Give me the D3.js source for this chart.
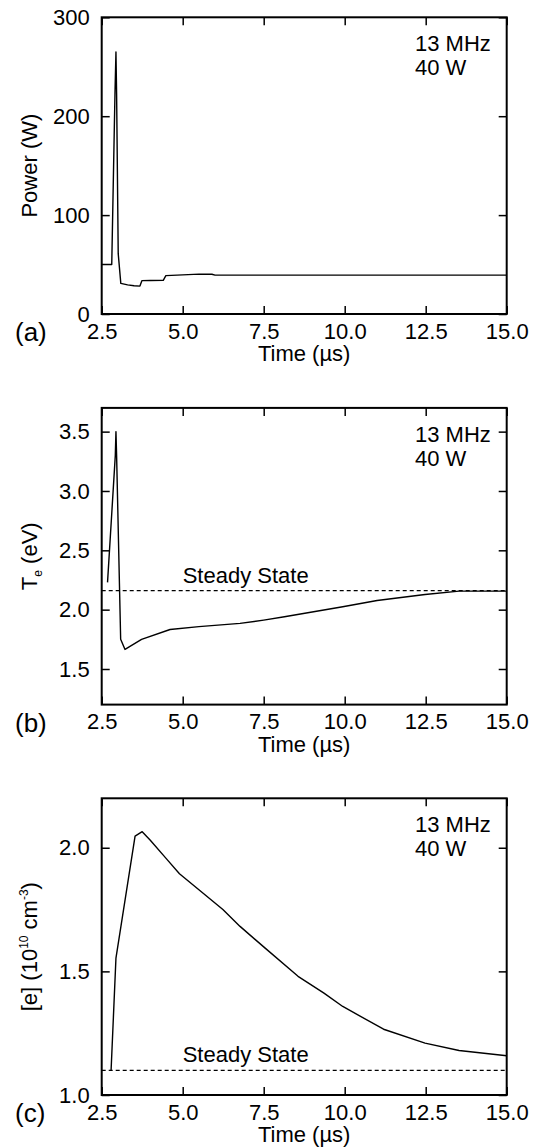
<!DOCTYPE html>
<html><head><meta charset="utf-8">
<script src="https://cdn.jsdelivr.net/npm/d3@7"></script>
<style>html,body{margin:0;padding:0;background:#fff}</style>
</head><body>
<svg id="chart" width="538" height="1147"></svg>
<script>
// ---------------- data ----------------
const timeTicks = [2.5, 5.0, 7.5, 10.0, 12.5, 15.0];
const condLabels = ["13 MHz", "40 W"];
const panelLabels = ["(a)", "(b)", "(c)"];

// (a) Power
const powerTime = [2.5, 2.81, 2.89, 2.91, 2.94, 2.96, 3.01, 3.09, 3.3, 3.5, 3.68, 3.74, 4.0, 4.40, 4.48, 5.0, 5.5, 5.9, 6.0, 15.0];
const powerW    = [50, 50, 189, 223, 265, 223, 61, 31, 29.5, 28.5, 28.2, 33.7, 33.8, 34, 38.8, 39.6, 40.3, 40.2, 39.3, 39.3];
const powerTicks = [0, 100, 200, 300];

// (b) Electron temperature
const teTime = [2.68, 2.92, 2.94, 2.96, 3.085, 3.22, 3.73, 4.61, 5.5, 6.77, 7.5, 8.14, 9.94, 11.0, 12.48, 13.53, 15.0];
const teEV   = [2.23, 3.3, 3.5, 3.3, 1.75, 1.665, 1.75, 1.833, 1.857, 1.884, 1.912, 1.94, 2.024, 2.077, 2.128, 2.156, 2.156];
const teTicks = [1.5, 2.0, 2.5, 3.0, 3.5];
const teSteady = 2.16;

// (c) Electron density
const neTime = [2.79, 2.94, 3.53, 3.75, 4.0, 4.5, 4.9, 5.5, 6.24, 6.77, 7.5, 8.56, 9.36, 9.94, 11.2, 12.48, 13.53, 15.0];
const neVal  = [1.10, 1.554, 2.047, 2.065, 2.03, 1.955, 1.895, 1.83, 1.75, 1.682, 1.599, 1.48, 1.412, 1.358, 1.266, 1.21, 1.18, 1.159];
const neTicks = [1.0, 1.5, 2.0];
const neSteady = 1.10;

// ---------------- layout ----------------
const FONT = "'Liberation Sans', Arial, Helvetica, sans-serif";
const FS = 22;
const L = 101.7, R = 506.7, H = 296.7;
const tops = [17.3, 407.9, 798.3];

const svg = d3.select("#chart");
const x = d3.scaleLinear().domain([2.5, 15]).range([L, R]);

function drawPanel(i, ts, vs, yDomain, yTicks, yFmt, steady, titleFn) {
  const top = tops[i], bottom = top + H;
  const y = d3.scaleLinear().domain(yDomain).range([bottom, top]);
  const g = svg.append("g");

  const styleAxis = sel => {
    sel.select(".domain").remove();
    sel.selectAll(".tick line").attr("stroke", "#000").attr("stroke-width", 1.5);
    sel.selectAll("text").attr("font-family", FONT).attr("font-size", FS).attr("fill", "#000");
  };
  g.append("g").attr("transform", `translate(0,${bottom})`)
    .call(d3.axisBottom(x).tickValues(timeTicks).tickFormat(d3.format(".1f"))
      .tickSizeInner(-8).tickSizeOuter(0).tickPadding(9))
    .call(styleAxis);
  g.append("g").attr("transform", `translate(0,${top})`)
    .call(d3.axisTop(x).tickValues(timeTicks).tickFormat("")
      .tickSizeInner(-8).tickSizeOuter(0))
    .call(styleAxis);
  g.append("g").attr("transform", `translate(${L},0)`)
    .call(d3.axisLeft(y).tickValues(yTicks).tickFormat(d3.format(yFmt))
      .tickSizeInner(-8).tickSizeOuter(0).tickPadding(12))
    .call(styleAxis);
  g.append("g").attr("transform", `translate(${R},0)`)
    .call(d3.axisRight(y).tickValues(yTicks).tickFormat("")
      .tickSizeInner(-8).tickSizeOuter(0))
    .call(styleAxis);

  g.append("rect").attr("x", L).attr("y", top).attr("width", R - L).attr("height", H)
    .attr("fill", "none").attr("stroke", "#000").attr("stroke-width", 2);

  if (steady != null) {
    g.append("line").attr("x1", L).attr("x2", R).attr("y1", y(steady)).attr("y2", y(steady))
      .attr("stroke", "#000").attr("stroke-width", 1.2).attr("stroke-dasharray", "4,3");
    g.append("text").attr("x", x(5.0)).attr("y", y(steady) - 8)
      .attr("font-family", FONT).attr("font-size", FS).text("Steady State");
  }

  const pts = ts.map((t, k) => [t, vs[k]]);
  g.append("path").datum(pts)
    .attr("d", d3.line().x(d => x(d[0])).y(d => y(d[1])))
    .attr("fill", "none").attr("stroke", "#000").attr("stroke-width", 1.4)
    .attr("stroke-linejoin", "round");

  condLabels.forEach((s, k) => {
    g.append("text").attr("x", 415).attr("y", top + 34 + k * 24)
      .attr("font-family", FONT).attr("font-size", FS).text(s);
  });

  g.append("text").attr("x", (L + R) / 2).attr("y", bottom + 47)
    .attr("text-anchor", "middle").attr("font-family", FONT).attr("font-size", FS)
    .text("Time (\u00B5s)");

  g.append("text").attr("x", 15).attr("y", bottom + 27)
    .attr("font-family", FONT).attr("font-size", 26).text(panelLabels[i]);

  const yt = g.append("text")
    .attr("transform", `translate(37,${(top + bottom) / 2}) rotate(-90)`)
    .attr("text-anchor", "middle").attr("font-family", FONT).attr("font-size", FS);
  titleFn(yt);
}

drawPanel(0, powerTime, powerW, [0, 300], powerTicks, "d", null,
  t => t.text("Power (W)"));
drawPanel(1, teTime, teEV, [1.2, 3.7], teTicks, ".1f", teSteady,
  t => {
    t.append("tspan").text("T");
    t.append("tspan").attr("font-size", 12).attr("dy", 5).text("e");
    t.append("tspan").attr("dy", -5).text(" (eV)");
  });
drawPanel(2, neTime, neVal, [1.0, 2.2], neTicks, ".1f", neSteady,
  t => {
    t.append("tspan").text("[e] (10");
    t.append("tspan").attr("font-size", 12).attr("dy", -9).text("10");
    t.append("tspan").attr("dy", 9).text(" cm");
    t.append("tspan").attr("font-size", 12).attr("dy", -9).text("-3");
    t.append("tspan").attr("dy", 9).text(")");
  });
</script>
</body></html>
